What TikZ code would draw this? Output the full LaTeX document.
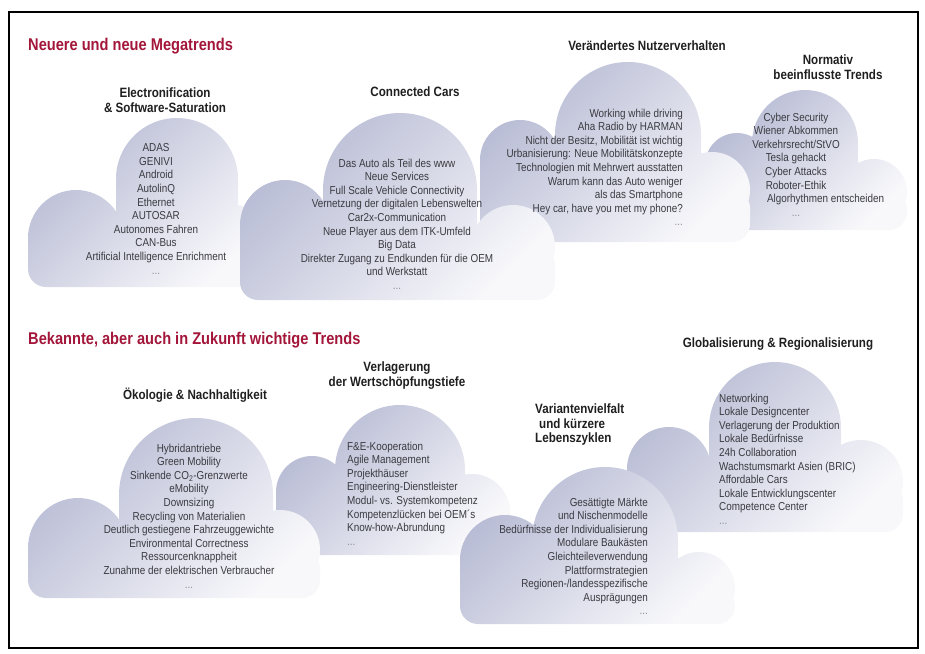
\documentclass[tikz,border=0pt]{standalone}
\usepackage{fontspec}
\setmainfont{Liberation Sans}[FakeStretch=0.86]
\definecolor{trendred}{RGB}{163,22,58}
\definecolor{cloudtop}{RGB}{182,186,211}
\definecolor{cloudbottom}{RGB}{248,248,251}
\definecolor{itemgray}{RGB}{58,58,64}
\definecolor{dotgray}{RGB}{140,140,150}
\tikzset{
  cloud/.style={top color=cloudtop, bottom color=cloudbottom, shading angle=45},
  section/.style={anchor=west, inner sep=0pt, text=trendred,
    font=\bfseries\fontsize{17}{19}\selectfont},
  head/.style={anchor=north, inner sep=0pt, align=center, text=black!88,
    font=\bfseries\fontsize{13.5}{14.5}\selectfont},
  items/.style={anchor=north, inner sep=0pt, align=center, text=itemgray,
    font=\fontsize{11.5}{13.6}\selectfont},
}
\newcommand{\more}{{\color{dotgray}...}}
\begin{document}
\begin{tikzpicture}[x=1pt, y=-1pt]
  \useasboundingbox (0,0) rectangle (925,653);
  \draw[line width=1.2pt] (9,12) rectangle (918,648);

  % Neuere und neue Megatrends
  \node[section] (top-title) at (28,46) {Neuere und neue Megatrends};
  % clouds, back to front
  \shade[cloud] (705,165) [rounded corners=18pt] -- (705,230) -- (907,230) -- (907,192) [sharp corners]
    -- (858,192) -- (858,143) -- (752,143) -- (752,165) -- cycle
    (737,165) circle[radius=32pt] (805,143) circle[radius=53pt] (874,192) circle[radius=33pt];
  \shade[cloud] (480,160) [rounded corners=18pt] -- (480,242) -- (750,242) -- (750,190) [sharp corners]
    -- (701,190) -- (701,135) -- (555,135) -- (555,160) -- cycle
    (520,160) circle[radius=40pt] (628,135) circle[radius=73pt] (712,190) circle[radius=38pt];
  \shade[cloud] (28,238) [rounded corners=18pt] -- (28,287) -- (262,287) -- (262,232) [sharp corners]
    -- (238,232) -- (238,179) -- (116,179) -- (116,238) -- cycle
    (76,238) circle[radius=48pt] (177,179) circle[radius=61pt] (235,232) circle[radius=27pt];
  \shade[cloud] (240,225) [rounded corners=18pt] -- (240,300) -- (555,300) -- (555,247) [sharp corners]
    -- (477,247) -- (477,190) -- (323,190) -- (323,225) -- cycle
    (285,225) circle[radius=45pt] (400,190) circle[radius=77pt] (513,247) circle[radius=42pt];

  \node[head] (elec-head) at (165,88) {Electronification\\\& Software-Saturation};
  \node[head] (conn-head) at (415,87) {Connected Cars};
  \node[head] (user-head) at (647,41) {Verändertes Nutzerverhalten};
  \node[head] (norm-head) at (828,55) {Normativ\\beeinflusste Trends};

  \node[items] (elec-list) at (156,143.5) {ADAS\\GENIVI\\Android\\AutolinQ\\Ethernet\\AUTOSAR\\
    Autonomes Fahren\\CAN-Bus\\Artificial Intelligence Enrichment\\\more};
  \node[items] (conn-list) at (397,158.5) {Das Auto als Teil des www\\Neue Services\\
    Full Scale Vehicle Connectivity\\Vernetzung der digitalen Lebenswelten\\Car2x-Communication\\
    Neue Player aus dem ITK-Umfeld\\Big Data\\Direkter Zugang zu Endkunden für die OEM\\
    und Werkstatt\\\more};
  \node[items, align=right, anchor=north east] (user-list) at (683,108.5) {Working while driving\\
    Aha Radio by HARMAN\\Nicht der Besitz, Mobilität ist wichtig\\
    Urbanisierung: Neue Mobilitätskonzepte\\Technologien mit Mehrwert ausstatten\\
    Warum kann das Auto weniger\\als das Smartphone\\Hey car, have you met my phone?\\\more};
  \node[items] (norm-list) at (796,112.5) {Cyber Security\\Wiener Abkommen\\Verkehrsrecht/StVO\\
    Tesla gehackt\\Cyber Attacks\\Roboter-Ethik\\
    \makebox[0pt][l]{\hspace*{-29pt}Algorhythmen entscheiden}\\\more};

  % Bekannte, aber auch in Zukunft wichtige Trends
  \node[section] (bottom-title) at (28,340) {Bekannte, aber auch in Zukunft wichtige Trends};
  \shade[cloud] (276,492) [rounded corners=18pt] -- (276,555) -- (510,555) -- (510,512) [sharp corners]
    -- (465,512) -- (465,470) -- (335,470) -- (335,492) -- cycle
    (312,492) circle[radius=36pt] (400,470) circle[radius=65pt] (472,512) circle[radius=38pt];
  \shade[cloud] (627,469) [rounded corners=18pt] -- (627,532) -- (903,532) -- (903,482) [sharp corners]
    -- (841,482) -- (841,428) -- (709,428) -- (709,469) -- cycle
    (669,469) circle[radius=42pt] (775,428) circle[radius=66pt] (861,482) circle[radius=42pt];
  \shade[cloud] (28,548) [rounded corners=18pt] -- (28,598) -- (320,598) -- (320,550) [sharp corners]
    -- (273,550) -- (273,495) -- (119,495) -- (119,548) -- cycle
    (78,548) circle[radius=50pt] (196,495) circle[radius=77pt] (280,550) circle[radius=40pt];
  \shade[cloud] (460,560) [rounded corners=18pt] -- (460,624) -- (735,624) -- (735,588) [sharp corners]
    -- (678,588) -- (678,540) -- (532,540) -- (532,560) -- cycle
    (505,560) circle[radius=45pt] (605,540) circle[radius=73pt] (699,588) circle[radius=36pt];

  \node[head] (eco-head) at (195,388) {Ökologie \& Nachhaltigkeit};
  \node[head] (value-head) at (397,362) {Verlagerung\\der Wertschöpfungstiefe};
  \node[head, align=left, anchor=north west] (var-head) at (535,404) {Variantenvielfalt\\
    \hspace*{4pt}und kürzere\\Lebenszyklen};
  \node[head] (glob-head) at (778,338) {Globalisierung \& Regionalisierung};

  \node[items] (eco-list) at (189,443.5) {Hybridantriebe\\Green Mobility\\
    Sinkende CO\textsubscript{2}-Grenzwerte\\eMobility\\Downsizing\\Recycling von Materialien\\
    Deutlich gestiegene Fahrzeuggewichte\\Environmental Correctness\\Ressourcenknappheit\\
    Zunahme der elektrischen Verbraucher\\\more};
  \node[items, align=left, anchor=north west] (value-list) at (347,441.5) {F\&E-Kooperation\\
    Agile Management\\Projekthäuser\\Engineering-Dienstleister\\Modul- vs. Systemkompetenz\\
    Kompetenzlücken bei OEM´s\\Know-how-Abrundung\\\more};
  \node[items, align=right, anchor=north east] (var-list) at (648,497.5) {Gesättigte Märkte\\
    und Nischenmodelle\\Bedürfnisse der Individualisierung\\Modulare Baukästen\\
    Gleichteileverwendung\\Plattformstrategien\\Regionen-/landesspezifische\\Ausprägungen\\\more};
  \node[items, align=left, anchor=north west] (glob-list) at (719,393.5) {Networking\\
    Lokale Designcenter\\Verlagerung der Produktion\\Lokale Bedürfnisse\\24h Collaboration\\
    Wachstumsmarkt Asien (BRIC)\\Affordable Cars\\Lokale Entwicklungscenter\\Competence Center\\\more};
\end{tikzpicture}
\end{document}
